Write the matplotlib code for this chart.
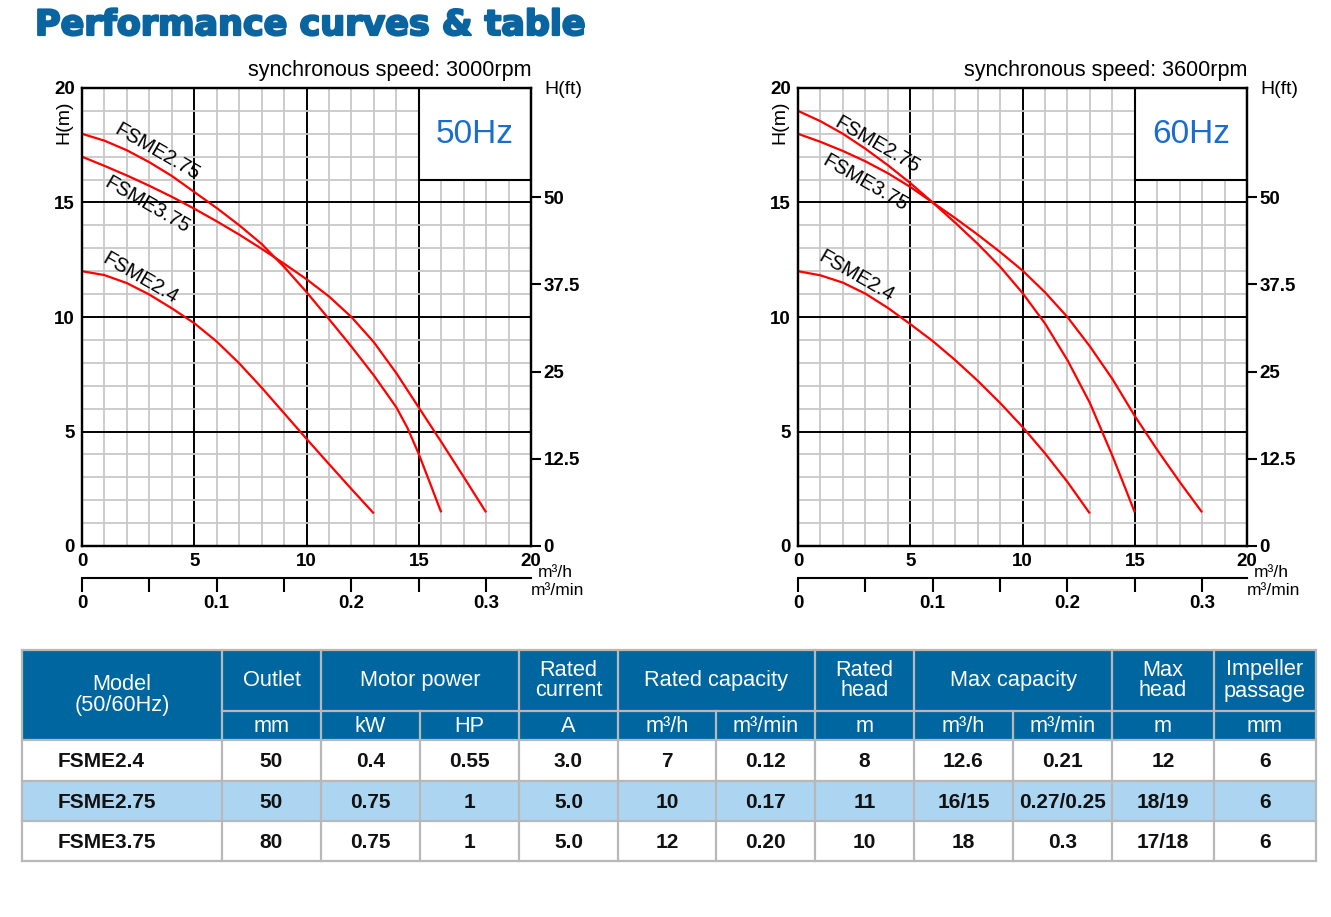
import matplotlib
matplotlib.use('Agg')
import matplotlib.pyplot as plt
import matplotlib.patheffects as pe
from matplotlib.patches import Rectangle
from matplotlib.ticker import FixedLocator

plt.rcParams['font.family'] = ['Liberation Sans', 'DejaVu Sans']

# ---------------- data ----------------
q_50_24 = [0, 1, 2, 3, 4, 5, 6, 7, 8, 9, 10, 11, 12, 13]
h_50_24 = [12.0, 11.83, 11.48, 10.98, 10.38, 9.73, 8.93, 7.98, 6.92, 5.8, 4.68, 3.58, 2.49, 1.42]

q_50_275 = [0, 1, 2, 3, 4, 5, 6, 7, 8, 9, 10, 11, 12, 13, 14, 14.5, 15, 15.5, 16]
h_50_275 = [18.0, 17.7, 17.28, 16.76, 16.16, 15.46, 14.76, 14.01, 13.19, 12.19, 11.09, 9.91,
            8.71, 7.45, 6.06, 5.15, 4.02, 2.75, 1.47]

q_50_375 = [0, 1, 2, 3, 4, 5, 6, 7, 8, 9, 10, 11, 12, 13, 14, 15, 16, 17, 18]
h_50_375 = [17.0, 16.6, 16.18, 15.73, 15.25, 14.73, 14.18, 13.6, 12.98, 12.33, 11.65, 10.9,
            10.0, 8.9, 7.55, 6.05, 4.55, 3.02, 1.47]

q_60_24 = [0, 1, 2, 3, 4, 5, 6, 7, 8, 9, 10, 11, 12, 13]
h_60_24 = [12.0, 11.82, 11.5, 11.02, 10.4, 9.69, 8.95, 8.12, 7.22, 6.25, 5.2, 4.05, 2.8, 1.42]

q_60_275 = [0, 1, 2, 3, 4, 5, 6, 7, 8, 9, 10, 11, 12, 13, 14, 14.5, 15]
h_60_275 = [19.0, 18.55, 18.0, 17.35, 16.63, 15.85, 15.0, 14.12, 13.2, 12.2, 11.05, 9.72,
            8.12, 6.25, 3.95, 2.72, 1.47]

q_60_375 = [0, 1, 2, 3, 4, 5, 6, 7, 8, 9, 10, 11, 12, 13, 14, 15, 16, 17, 18]
h_60_375 = [18.0, 17.65, 17.25, 16.8, 16.28, 15.68, 15.0, 14.32, 13.6, 12.84, 12.03, 11.08,
            10.0, 8.72, 7.3, 5.68, 4.2, 2.8, 1.47]

ft_ticks = [0, 12.5, 25, 37.5, 50]
q_ticks = [0, 5, 10, 15, 20]
h_ticks = [0, 5, 10, 15, 20]
qmin_ticks = [0, 0.1, 0.2, 0.3]
qmin_minor = [0.05, 0.15, 0.25]

models = ["FSME2.4", "FSME2.75", "FSME3.75"]
outlet = ["50", "50", "80"]
power_kw = ["0.4", "0.75", "0.75"]
power_hp = ["0.55", "1", "1"]
current = ["3.0", "5.0", "5.0"]
rated_q_h = ["7", "10", "12"]
rated_q_min = ["0.12", "0.17", "0.20"]
rated_head = ["8", "11", "10"]
max_q_h = ["12.6", "16/15", "18"]
max_q_min = ["0.21", "0.27/0.25", "0.3"]
max_head = ["12", "18/19", "17/18"]
impeller = ["6", "6", "6"]

header_groups = [("Model\n(50/60Hz)", 0, 0), ("Outlet", 1, 1), ("Motor power", 2, 3),
                 ("Rated\ncurrent", 4, 4), ("Rated capacity", 5, 6), ("Rated\nhead", 7, 7),
                 ("Max capacity", 8, 9), ("Max\nhead", 10, 10), ("Impeller\npassage", 11, 11)]
units = ["mm", "kW", "HP", "A", "m³/h", "m³/min", "m", "m³/h", "m³/min", "m", "mm"]

# ---------------- figure ----------------
W, H = 1331, 917
fig = plt.figure(figsize=(W / 100, H / 100), dpi=100)


def px_axes(x0, y0, x1, y1):
    return fig.add_axes([x0 / W, 1 - y1 / H, (x1 - x0) / W, (y1 - y0) / H])


RED = '#ff0000'
FS = 13.5


def draw_chart(x0, hz, rpm, curves, labels):
    ax = px_axes(x0, 88, x0 + 449, 546)
    ax.set_xlim(0, 20)
    ax.set_ylim(0, 20)
    ax.set_xticks(q_ticks)
    ax.set_yticks(h_ticks)
    ax.set_xticks(range(0, 21), minor=True)
    ax.set_yticks(range(0, 21), minor=True)
    ax.set_axisbelow(True)
    ax.grid(which='minor', color='#c8c8c8', lw=1.3)
    ax.grid(which='major', color='black', lw=1.4)
    ax.tick_params(which='both', length=0, labelsize=FS, pad=5)
    for lab in ax.get_xticklabels() + ax.get_yticklabels():
        lab.set_fontweight('bold')
    for s in ax.spines.values():
        s.set_linewidth(1.6)

    ax.add_patch(Rectangle((15, 16), 5, 4, fc='white', ec='black', lw=1.5, zorder=1.5))
    ax.text(17.5, 17.95, hz, ha='center', va='center', fontsize=24, color='#1a6dcc', zorder=3)

    for (q, h) in curves:
        ax.plot(q, h, color=RED, lw=1.6, zorder=2.5, solid_capstyle='butt',
                solid_joinstyle='round')
    for (txt, qx, hy) in labels:
        ax.text(qx, hy, txt, rotation=-30, ha='center', va='center', fontsize=14.5,
                rotation_mode='anchor', zorder=3)

    ax2 = ax.twinx()
    ax2.set_ylim(0, 20 / 0.3048)
    ax2.set_yticks(ft_ticks)
    ax2.set_yticklabels(['0', '12.5', '25', '37.5', '50'], fontweight='bold')
    ax2.tick_params(length=7, width=1.5, direction='out', labelsize=FS, pad=2)
    for s in ax2.spines.values():
        s.set_linewidth(1.6)

    sec = ax.secondary_xaxis(-0.07, functions=(lambda v: v / 60.0, lambda v: v * 60.0))
    sec.set_xticks(qmin_ticks)
    sec.set_xticklabels(['0', '0.1', '0.2', '0.3'], fontweight='bold')
    sec.xaxis.set_minor_locator(FixedLocator(qmin_minor))
    sec.tick_params(which='both', length=10, width=1.5, direction='out', labelsize=FS, pad=2)
    sec.spines['bottom'].set_linewidth(1.5)

    ax.text(1.055, -0.057, 'm³/h', transform=ax.transAxes, ha='center', va='center',
            fontsize=12.5)
    ax.text(1.06, -0.098, 'm³/min', transform=ax.transAxes, ha='center', va='center',
            fontsize=12.5)
    ax.text(1.0, 1.038, 'synchronous speed: ' + rpm, transform=ax.transAxes, ha='right',
            va='center', fontsize=15.5)
    ax.text(1.071, 0.996, 'H(ft)', transform=ax.transAxes, ha='center', va='center',
            fontsize=14)
    ax.text(-0.040, 0.926, 'H(m)', transform=ax.transAxes, ha='center', va='center',
            fontsize=14, rotation=90)
    return ax


draw_chart(82, '50Hz', '3000rpm',
           [(q_50_24, h_50_24), (q_50_275, h_50_275), (q_50_375, h_50_375)],
           [('FSME2.75', 3.34, 17.2), ('FSME3.75', 2.9, 14.9), ('FSME2.4', 2.6, 11.7)])
draw_chart(798, '60Hz', '3600rpm',
           [(q_60_24, h_60_24), (q_60_275, h_60_275), (q_60_375, h_60_375)],
           [('FSME2.75', 3.52, 17.5), ('FSME3.75', 2.98, 15.85), ('FSME2.4', 2.6, 11.8)])

# ---------------- overlay: title + table ----------------
tab = fig.add_axes([0, 0, 1, 1])
tab.set_xlim(0, W)
tab.set_ylim(H, 0)
tab.axis('off')

TITLE_C = '#0a64a0'
title = tab.text(35, 25, 'Performance curves & table', fontsize=25, fontweight='bold',
                 family='DejaVu Sans', color=TITLE_C, va='center', ha='left',
                 path_effects=[pe.withStroke(linewidth=1.6, foreground=TITLE_C)])
fig.canvas.draw()
bb = title.get_window_extent()
title.set_fontsize(25 * 551.0 / bb.width)

cx = [22, 222, 321, 420, 519, 618, 716, 815, 914, 1013, 1112, 1214, 1316]
ry = [650, 711, 740, 781, 821, 861]
HEAD = '#0066a0'
GRID = '#b8b8b8'
row_fill = ['white', '#abd5f0', 'white']

tab.add_patch(Rectangle((cx[0], ry[0]), cx[-1] - cx[0], ry[2] - ry[0], fc=HEAD, ec='none'))
for i in range(3):
    tab.add_patch(Rectangle((cx[0], ry[2 + i]), cx[-1] - cx[0], ry[3 + i] - ry[2 + i],
                            fc=row_fill[i], ec='none'))

LW = 1.6
tab.plot([cx[0], cx[-1]], [ry[0], ry[0]], color=GRID, lw=LW)
tab.plot([cx[1], cx[-1]], [ry[1], ry[1]], color=GRID, lw=LW)
for y in ry[2:]:
    tab.plot([cx[0], cx[-1]], [y, y], color=GRID, lw=LW)
group_edges = set()
for (_, a, b) in header_groups:
    group_edges.add(a)
    group_edges.add(b + 1)
for i, x in enumerate(cx):
    if i in group_edges:
        tab.plot([x, x], [ry[0], ry[-1]], color=GRID, lw=LW)
    else:
        tab.plot([x, x], [ry[1], ry[-1]], color=GRID, lw=LW)

HFS = 15.7
for (txt, a, b) in header_groups:
    xc = (cx[a] + cx[b + 1]) / 2
    if a == 0:
        yc = (ry[0] + ry[2]) / 2
    else:
        yc = (ry[0] + ry[1]) / 2
    tab.text(xc, yc, txt, ha='center', va='center', fontsize=HFS, color='white',
             linespacing=1.0)
for j, u in enumerate(units):
    c = j + 1
    tab.text((cx[c] + cx[c + 1]) / 2, (ry[1] + ry[2]) / 2 + 1, u, ha='center', va='center',
             fontsize=HFS, color='white')

columns = [models, outlet, power_kw, power_hp, current, rated_q_h, rated_q_min, rated_head,
           max_q_h, max_q_min, max_head, impeller]
for c, col in enumerate(columns):
    for r, val in enumerate(col):
        yc = (ry[2 + r] + ry[3 + r]) / 2 + 1
        if c == 0:
            tab.text(58, yc, val, ha='left', va='center', fontsize=15, color='#111111',
                     fontweight='bold')
        else:
            tab.text((cx[c] + cx[c + 1]) / 2, yc, val, ha='center', va='center',
                     fontsize=15, color='#111111', fontweight='bold')

fig.savefig('out.png', dpi=100)
